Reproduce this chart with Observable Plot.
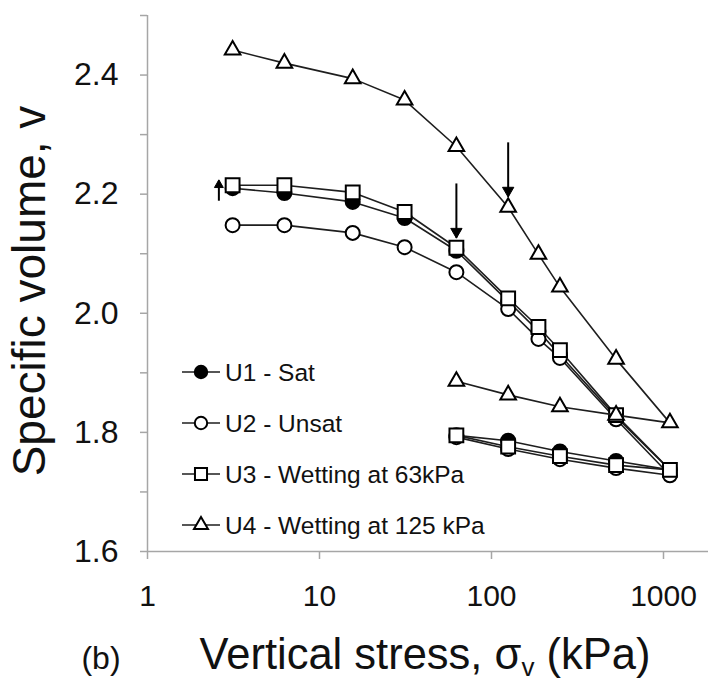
<!DOCTYPE html>
<html><head><meta charset="utf-8">
<script src="https://cdn.jsdelivr.net/npm/d3@7"></script>
<script src="https://cdn.jsdelivr.net/npm/@observablehq/plot@0.6"></script>
<style>
body{margin:0;background:#fff}
#chart{position:relative;width:708px;height:684px;overflow:hidden}
</style>
</head><body><div id="chart"></div>
<script>
// ---- data ----
const stress = [3.125, 6.25, 15.6, 31.25, 62.5, 125, 187.5, 250, 530, 1090];
const unloadStress = [530, 250, 125, 62.5];
const seriesNames = ["U1 - Sat", "U2 - Unsat", "U3 - Wetting at 63kPa", "U4 - Wetting at 125 kPa"];
const u1Load = [2.210, 2.202, 2.187, 2.160, 2.105, 2.020, 1.970, 1.930, 1.826, 1.737];
const u1Unload = [1.752, 1.768, 1.786, 1.795];
const u2Load = [2.148, 2.148, 2.135, 2.111, 2.069, 2.007, 1.957, 1.925, 1.822, 1.728];
const u2Unload = [1.740, 1.755, 1.772, 1.792];
const u3Load = [2.215, 2.215, 2.203, 2.170, 2.110, 2.025, 1.977, 1.938, 1.829, 1.737];
const u3Unload = [1.745, 1.760, 1.776, 1.795];
const u4Load = [2.442, 2.420, 2.394, 2.358, 2.280, 2.178, 2.099, 2.044, 1.923, 1.816];
const u4Unload = [1.829, 1.843, 1.863, 1.886];
const xTicks = [1, 10, 100, 1000];
const yLabelTicks = [1.6, 1.8, 2.0, 2.2, 2.4];
const yMinorTicks = [1.6, 1.7, 1.8, 1.9, 2.0, 2.1, 2.2, 2.3, 2.4, 2.5];
// arrows: x position, start value, tip value
const arrowX = [2.6, 62.5, 125];
const arrowFrom = [2.189, 2.218, 2.287];
const arrowTo = [2.223, 2.127, 2.196];

// ---- build tables ----
const loads = [u1Load, u2Load, u3Load, u4Load];
const unloads = [u1Unload, u2Unload, u3Unload, u4Unload];
const symbols = ["circle", "circle", "square", "triangle"];
const fills = ["black", "white", "white", "white"];
const radii = [7, 7, 7.8, 5.8];
const rows = [];
seriesNames.forEach((name, i) => {
  loads[i].forEach((v, j) => rows.push({s: name, i, x: stress[j], v}));
  unloads[i].forEach((v, j) => rows.push({s: name, i, x: unloadStress[j], v}));
});
const arrows = arrowX.map((x, k) => ({x, v1: arrowFrom[k], v2: arrowTo[k], up: arrowTo[k] > arrowFrom[k]}));

const FONT = "Liberation Sans, Arial, Helvetica, sans-serif";
const axisGray = "#a6a6a6";

const marks = [];
// axes
marks.push(Plot.axisY({ticks: yMinorTicks, tickFormat: () => "", tickSize: 7, stroke: axisGray, strokeWidth: 1.5}));
marks.push(Plot.axisY({ticks: yLabelTicks, tickFormat: d => d.toFixed(1), tickSize: 0, tickPadding: 29, fontSize: 32, fill: "#111", label: null}));
marks.push(Plot.axisX({ticks: xTicks, tickFormat: d => String(d), tickSize: 8, tickPadding: 25, stroke: axisGray, strokeWidth: 1.5, fontSize: 30, fill: "#111", label: null}));
marks.push(Plot.ruleX([1], {y1: 1.6, y2: 2.5, stroke: axisGray, strokeWidth: 1.5}));
marks.push(Plot.ruleY([1.6], {stroke: axisGray, strokeWidth: 1.5}));
// series
seriesNames.forEach((name, i) => {
  const d = rows.filter(r => r.i === i);
  marks.push(Plot.line(d, {x: "x", y: "v", stroke: "#1e1e1e", strokeWidth: 1.6}));
  marks.push(Plot.dot(d, {x: "x", y: "v", symbol: symbols[i], r: radii[i], fill: fills[i], stroke: "black", strokeWidth: 2}));
});
// arrows
marks.push(Plot.link(arrows, {x1: "x", x2: "x", y1: "v1", y2: "v2", stroke: "black", strokeWidth: 2}));
marks.push(Plot.dot(arrows.filter(a => !a.up), {x: "x", y: "v2", symbol: "triangle", rotate: 180, r: 4.2, dy: -6, fill: "black", stroke: "black", strokeWidth: 1}));
marks.push(Plot.dot(arrows.filter(a => a.up), {x: "x", y: "v2", symbol: "triangle", r: 3.3, dy: 4.5, fill: "black", stroke: "black", strokeWidth: 1}));

const chart = Plot.plot({
  width: 708, height: 684,
  marginLeft: 147, marginRight: 0, marginTop: 15, marginBottom: 133,
  style: {fontFamily: FONT, background: "white", color: "#111"},
  x: {type: "log", domain: [1, Math.pow(10, 561 / 172)], label: null},
  y: {domain: [1.6, 2.5], label: null},
  marks
});
document.getElementById("chart").appendChild(chart);

// ---- titles and legend (real SVG text) ----
const svg = d3.select(chart);
svg.append("text").attr("transform", "translate(45,291) rotate(-90)")
  .attr("text-anchor", "middle").attr("font-size", 46).attr("fill", "#111").attr("font-family", FONT)
  .text("Specific volume, v");
const xt = svg.append("text").attr("x", 425).attr("y", 669).attr("text-anchor", "middle")
  .attr("font-size", 43.5).attr("fill", "#111").attr("font-family", FONT);
xt.append("tspan").text("Vertical stress, σ");
xt.append("tspan").attr("font-size", 26).attr("dy", 7).text("v");
xt.append("tspan").attr("dy", -7).text(" (kPa)");
svg.append("text").attr("x", 101).attr("y", 669).attr("text-anchor", "middle")
  .attr("font-size", 32).attr("fill", "#111").attr("font-family", FONT).text("(b)");

const lg = svg.append("g").attr("text-anchor", "start");
const symMap = {circle: d3.symbolCircle, square: d3.symbolSquare, triangle: d3.symbolTriangle};
const legendR = [6.2, 6.2, 6.8, 5.2];
seriesNames.forEach((name, i) => {
  const y = 372 + 51 * i;
  lg.append("line").attr("x1", 182).attr("x2", 220).attr("y1", y).attr("y2", y).attr("stroke", "#1e1e1e").attr("stroke-width", 1.6);
  lg.append("path").attr("transform", `translate(201,${y})`)
    .attr("d", d3.symbol(symMap[symbols[i]], Math.PI * legendR[i] * legendR[i])())
    .attr("fill", fills[i]).attr("stroke", "black").attr("stroke-width", 2);
  lg.append("text").attr("x", 225).attr("y", y).attr("dy", "0.36em").attr("font-size", 24.5)
    .attr("text-anchor", "start").attr("fill", "#111").attr("font-family", FONT).text(name);
});
</script>
</body></html>
